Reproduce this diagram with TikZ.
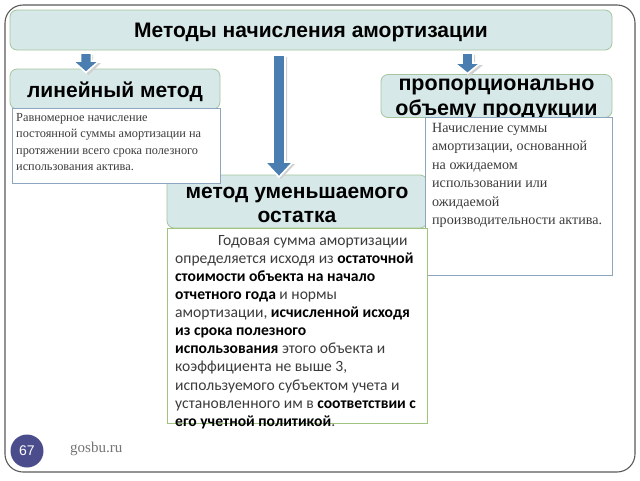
\documentclass[tikz,border=0pt]{standalone}
\usepackage{fontspec}
\setmainfont{Liberation Serif}
\newfontfamily\hdfont{Liberation Sans}
\newfontfamily\calfont{Carlito}
\definecolor{headfill}{RGB}{214,232,232}
\definecolor{headdraw}{RGB}{165,196,160}
\definecolor{boxdraw}{RGB}{140,166,192}
\definecolor{midboxdraw}{RGB}{160,195,125}
\definecolor{arrowblue}{RGB}{74,126,176}
\definecolor{circfill}{RGB}{75,76,140}
\definecolor{txtgray}{RGB}{60,60,60}
\begin{document}
\begin{tikzpicture}[x=1pt,y=-1pt,
  header/.style={draw=headdraw,fill=headfill,rounded corners=7pt,line width=0.8pt,inner sep=0pt},
  textbox/.style={draw=boxdraw,fill=white,line width=0.7pt,inner sep=0pt},
  midbox/.style={draw=midboxdraw,fill=white,line width=0.8pt,inner sep=0pt},
  hdtext/.style={font=\hdfont\bfseries\fontsize{21}{24}\selectfont,align=center,inner sep=0pt},
  arrowshape/.style={fill=arrowblue,draw=white,line width=1.6pt,line join=miter},
  arrowshadow/.style={fill=black!18,draw=none}
]
\useasboundingbox (0,0) rectangle (640,480);
% outer frame
\draw[black!65,line width=1.1pt,rounded corners=18pt] (5,5) rectangle (635,472);

% title
\node[header,minimum width=602pt,minimum height=40pt] (title) at (311,30) {};
\node[hdtext] (titletext) at (311,32) {Методы начисления амортизации};

% headers
\node[header,minimum width=210pt,minimum height=40pt] (lin) at (115,89) {};
\node[hdtext] (lintext) at (115,92) {линейный метод};

\node[header,minimum width=231pt,minimum height=43pt] (prop) at (496.5,96) {};
\node[hdtext,anchor=north,font=\hdfont\bfseries\fontsize{21.5}{25}\selectfont] (proptext) at (496.5,79) {пропорционально\\объему продукции};

\node[header,minimum width=260pt,minimum height=53pt] (mid) at (297,201.5) {};
\node[hdtext] (midtext) at (297,205) {метод уменьшаемого\\остатка};

% text boxes
\node[textbox,minimum width=208pt,minimum height=75pt] (linbox) at (116,145.5) {};
\node[anchor=north west,align=left,inner sep=0pt,text=txtgray,
  font=\fontsize{12.3}{16.5}\selectfont] (lindesc) at (16,113)
  {Равномерное начисление\\постоянной суммы амортизации на\\протяжении всего срока полезного\\использования актива.};

\node[textbox,minimum width=187pt,minimum height=158pt] (propbox) at (518.5,196) {};
\node[anchor=north west,align=left,inner sep=0pt,text=txtgray,
  font=\fontsize{14.1}{18.4}\selectfont] (propdesc) at (432,123)
  {Начисление суммы\\амортизации, основанной\\на ожидаемом\\использовании или\\ожидаемой\\производительности актива.};

\node[midbox,minimum width=260pt,minimum height=195pt] (midbox) at (297,325.5) {};
\node[anchor=north west,align=left,inner sep=0pt,text=txtgray,
  font=\calfont\fontsize{15.6}{18.1}\selectfont] (middesc) at (175,235)
  {\hspace*{43pt}Годовая сумма амортизации\\
   определяется исходя из \textbf{\color{black}остаточной}\\
   \textbf{\color{black}стоимости объекта на начало}\\
   \textbf{\color{black}отчетного года} и нормы\\
   амортизации, \textbf{\color{black}исчисленной исходя}\\
   \textbf{\color{black}из срока полезного}\\
   \textbf{\color{black}использования} этого объекта и\\
   коэффициента не выше 3,\\
   используемого субъектом учета и\\
   установленного им в \textbf{\color{black}соответствии с}\\
   \textbf{\color{black}его учетной политикой}.};

% arrows (block arrows)
\fill[arrowshadow] (82,55) -- (93,55) -- (93,63) -- (101,63) -- (88.5,75) -- (76,63) -- (82,63) -- cycle;
\draw[arrowshape] (80.5,53) -- (91.5,53) -- (91.5,61) -- (99,61) -- (86,72.5) -- (73,61) -- (80.5,61) -- cycle;

\fill[arrowshadow] (464,55) -- (475,55) -- (475,65) -- (483,65) -- (470,76) -- (457,65) -- (464,65) -- cycle;
\draw[arrowshape] (462,53) -- (473,53) -- (473,63) -- (480.5,63) -- (467.5,73.5) -- (454.5,63) -- (462,63) -- cycle;

\fill[arrowshadow] (275,57) -- (287,57) -- (287,164) -- (295,164) -- (281,179) -- (267,164) -- (275,164) -- cycle;
\draw[arrowshape] (273,55) -- (285,55) -- (285,162) -- (293,162) -- (279,177) -- (265,162) -- (273,162) -- cycle;

% footer
\node[circle,fill=circfill,minimum size=33pt,inner sep=0pt,text=white,
  font=\hdfont\fontsize{14}{16}\selectfont] (page) at (27,451) {67};
\node[anchor=west,inner sep=0pt,text=black!55,font=\fontsize{15}{17}\selectfont] (site) at (70,449) {gosbu.ru};
\end{tikzpicture}
\end{document}
